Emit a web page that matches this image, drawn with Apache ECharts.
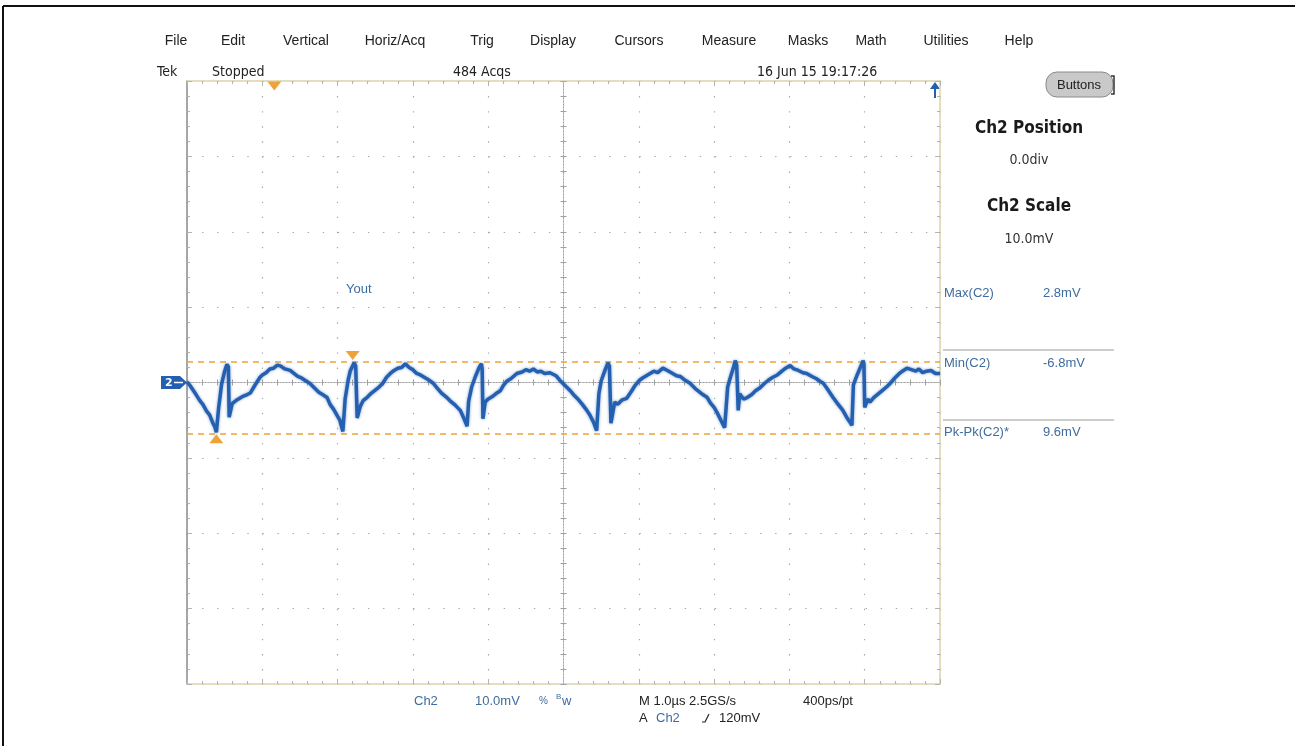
<!DOCTYPE html>
<html>
<head>
<meta charset="utf-8">
<title>Tek scope capture</title>
<script src="https://cdn.jsdelivr.net/npm/echarts@6/dist/echarts.min.js"></script>
<style>
  html, body { margin: 0; padding: 0; background: #fff; }
  #chart { width: 1295px; height: 746px; }
</style>
</head>
<body>
<div id="chart"></div>
<script>
  // Ch2 trace, time in us (0..10 across the screen), voltage in mV
  const tracePoints = [
    [0, 0.1], [0.04, -0.4], [0.08, -1.0], [0.12, -1.6], [0.17, -2.4], [0.21, -2.9], [0.26, -3.8], [0.3, -4.3],
    [0.34, -5.3], [0.37, -5.9], [0.39, -6.6],
    [0.42, -3.4], [0.46, -0.2], [0.5, 1.5], [0.53, 2.4], [0.55, 2.1], [0.56, -4.6],
    [0.6, -2.8], [0.65, -2.4], [0.7, -2.1], [0.75, -1.8], [0.8, -1.6], [0.84, -1.4], [0.9, -0.4], [0.97, 0.7],
    [1.0, 1.0], [1.05, 1.3], [1.1, 1.8], [1.15, 1.9], [1.2, 2.3], [1.24, 2.2], [1.3, 1.8], [1.37, 1.6],
    [1.42, 1.2], [1.47, 0.8], [1.52, 0.6], [1.58, 0.2], [1.63, -0.1], [1.7, -0.8], [1.75, -1.3], [1.8, -1.6],
    [1.86, -2.0], [1.9, -2.9], [1.95, -3.6], [2.0, -4.5], [2.03, -5.0], [2.07, -6.5],
    [2.1, -2.2], [2.14, 0.3], [2.17, 1.6], [2.22, 2.6], [2.24, 2.2], [2.26, -4.7],
    [2.3, -3.2], [2.34, -2.4], [2.4, -1.9], [2.45, -1.4], [2.5, -1.0], [2.55, -0.6], [2.6, -0.1], [2.65, 0.7],
    [2.7, 1.2], [2.75, 1.6], [2.8, 1.9], [2.85, 2.0], [2.9, 2.5], [2.95, 2.0], [3.0, 1.7], [3.05, 1.2],
    [3.1, 1.0], [3.15, 0.7], [3.2, 0.4], [3.27, -0.1], [3.32, -0.7], [3.38, -1.4], [3.44, -1.9], [3.49, -2.4],
    [3.55, -2.9], [3.6, -3.4], [3.63, -3.7], [3.67, -4.6], [3.72, -5.8],
    [3.74, -2.5], [3.78, -0.6], [3.83, 0.8], [3.88, 2.0], [3.91, 2.5], [3.92, 1.8], [3.93, -4.8],
    [3.96, -2.6], [4.0, -2.2], [4.05, -1.9], [4.1, -1.5], [4.16, -1.1], [4.2, -0.4], [4.25, 0.2], [4.3, 0.5],
    [4.38, 1.2], [4.45, 1.4], [4.5, 1.7], [4.55, 1.5], [4.6, 1.8], [4.65, 1.4], [4.7, 1.5], [4.75, 1.2],
    [4.82, 1.3], [4.9, 0.9], [4.95, 0.3], [5.0, -0.2], [5.05, -0.7], [5.1, -1.2], [5.15, -1.8], [5.2, -2.3],
    [5.25, -2.9], [5.31, -3.7], [5.35, -4.3], [5.4, -5.3], [5.44, -6.4],
    [5.47, -1.5], [5.5, 0.2], [5.55, 1.6], [5.59, 2.6], [5.61, 2.2], [5.63, -5.4],
    [5.68, -2.6], [5.72, -2.9], [5.78, -2.3], [5.84, -2.1], [5.9, -1.2], [5.95, -0.4], [6.01, 0.3], [6.05, 0.6],
    [6.1, 0.9], [6.15, 1.2], [6.2, 1.5], [6.25, 1.3], [6.32, 1.9], [6.38, 1.6], [6.45, 1.2], [6.5, 0.9],
    [6.55, 0.8], [6.6, 0.4], [6.68, -0.1], [6.75, -0.8], [6.8, -1.2], [6.85, -1.6], [6.91, -2.0], [6.95, -2.7],
    [7.0, -3.3], [7.04, -4.0], [7.1, -5.2], [7.14, -6.0],
    [7.18, -0.6], [7.22, 0.8], [7.26, 2.1], [7.28, 2.9], [7.3, 2.3], [7.32, -3.7],
    [7.34, -1.5], [7.39, -2.2], [7.44, -2.0], [7.5, -1.6], [7.55, -1.1], [7.61, -0.7], [7.66, -0.2], [7.72, 0.3],
    [7.78, 0.7], [7.84, 1.0], [7.9, 1.5], [7.95, 1.9], [8.01, 2.25], [8.06, 1.8], [8.12, 1.6], [8.18, 1.3],
    [8.23, 1.2], [8.3, 0.8], [8.36, 0.5], [8.4, 0.2], [8.45, -0.1], [8.5, -0.8], [8.54, -1.4], [8.58, -2.0],
    [8.64, -2.8], [8.71, -3.7], [8.76, -4.6], [8.8, -5.2], [8.83, -5.7],
    [8.85, -0.3], [8.9, 1.0], [8.95, 2.2], [8.98, 2.9], [8.99, 2.4], [9.0, -3.3],
    [9.04, -2.2], [9.07, -2.6], [9.12, -2.0], [9.18, -1.5], [9.24, -1.0], [9.3, -0.5], [9.34, -0.1], [9.4, 0.6],
    [9.45, 1.1], [9.5, 1.5], [9.56, 1.9], [9.62, 1.7], [9.68, 1.5], [9.72, 1.8], [9.77, 1.3], [9.82, 1.5],
    [9.88, 1.6], [9.94, 1.2], [10.0, 1.2]
  ]

  // cursor levels (mV) = measured max / min
  const cursorLevels = [2.8, -6.8]
  // screen span: 10 div x 1.0us, 8 div x 10 mV
  const timeRange = [0, 10]
  const voltRange = [-40, 40]
  const triggerTime = 1.16

  const menuItems = ['File', 'Edit', 'Vertical', 'Horiz/Acq', 'Trig', 'Display', 'Cursors', 'Measure', 'Masks', 'Math', 'Utilities', 'Help']
  const statusItems = ['Tek', 'Stopped', '484 Acqs', '16 Jun 15 19:17:26']
  const measureNames = ['Max(C2)', 'Min(C2)', 'Pk-Pk(C2)*']
  const measureValues = ['2.8mV', '-6.8mV', '9.6mV']

  const BLUE = '#2560b0'
  const TXTBLUE = '#3f6c9e'
  const ORANGE = '#eea23a'
  const EDGE = '#d8d5ab'
  const TICK = '#b5b5a5'

  const chart = echarts.init(document.getElementById('chart'), null, { renderer: 'canvas' })

  const gridDots = { show: true, lineStyle: { color: '#a8a8a8', width: 1.2, type: [1.4, 13.68] } }

  // builds one frame/centre axis; all share the same scale
  const frameAxis = (dim, position, opts) => {
    const range = dim === 'x' ? timeRange : voltRange
    return Object.assign({
      type: 'value',
      min: range[0],
      max: range[1],
      interval: dim === 'x' ? 1 : 10,
      position: position,
      offset: 0,
      axisLine: { show: true, onZero: false, lineStyle: { color: EDGE, width: 1.5 } },
      axisTick: { show: true, inside: true, length: 5, lineStyle: { color: TICK } },
      minorTick: { show: true, splitNumber: 5, length: 3, lineStyle: { color: TICK } },
      axisLabel: { show: false },
      splitLine: { show: false }
    }, opts)
  }

  const centerLine = { show: true, onZero: false, lineStyle: { color: '#a0a0a0', width: 1, type: [1, 2] } }
  const centerTick = inside => ({
    axisLine: centerLine,
    axisTick: { show: true, inside: inside, length: 3, lineStyle: { color: '#a0a0a0' } },
    minorTick: { show: true, splitNumber: 5, length: 3, lineStyle: { color: '#a0a0a0' } }
  })

  const ctext = (t, x, y, font, fill, align) => ({
    type: 'text', x: x, y: y,
    style: { text: t, font: font, fill: fill || '#222', align: align || 'left', verticalAlign: 'middle', textAlign: align || 'left', textVerticalAlign: 'middle' }
  })

  const texts = []
  const menuX = [176, 233, 306, 395, 482, 553, 639, 729, 808, 871, 946, 1019]
  menuItems.forEach((m, i) => {
    texts.push(ctext(m, menuX[i], 41, '14px "Liberation Sans", Arial', '#222', 'center'))
  })
  const statusX = [157, 212, 453, 757]
  statusItems.forEach((s, i) => {
    texts.push(ctext(s, statusX[i], 72, '14px "DejaVu Sans Condensed", "Liberation Sans", Arial', '#222'))
  })

  texts.push(ctext('Ch2 Position', 1029, 129, 'bold 17px "DejaVu Sans Condensed", "DejaVu Sans", Arial', '#1a1a1a', 'center'))
  texts.push(ctext('0.0div', 1029, 160, '14px "DejaVu Sans Condensed", "Liberation Sans", Arial', '#333', 'center'))
  texts.push(ctext('Ch2 Scale', 1029, 207, 'bold 17px "DejaVu Sans Condensed", "DejaVu Sans", Arial', '#1a1a1a', 'center'))
  texts.push(ctext('10.0mV', 1029, 239, '14px "DejaVu Sans Condensed", "Liberation Sans", Arial', '#333', 'center'))

  const measY = [293, 363, 432]
  measureNames.forEach((n, i) => {
    texts.push(ctext(n, 944, measY[i], '13px "Liberation Sans", Arial', TXTBLUE))
    texts.push(ctext(measureValues[i], 1043, measY[i], '13px "Liberation Sans", Arial', TXTBLUE))
  })
  texts.push({ type: 'line', shape: { x1: 943, y1: 350, x2: 1114, y2: 350 }, style: { stroke: '#9a9a9a', lineWidth: 1 } })
  texts.push({ type: 'line', shape: { x1: 943, y1: 420, x2: 1114, y2: 420 }, style: { stroke: '#9a9a9a', lineWidth: 1 } })

  texts.push(ctext('Yout', 346, 289, '13px "Liberation Sans", Arial', TXTBLUE))

  // bottom readout
  texts.push(ctext('Ch2', 414, 701, '13px "Liberation Sans", Arial', TXTBLUE))
  texts.push(ctext('10.0mV', 475, 701, '13px "Liberation Sans", Arial', TXTBLUE))
  texts.push(ctext('%', 539, 701, '10px "Liberation Sans", Arial', TXTBLUE))
  texts.push(ctext('B', 556, 697, '8px "Liberation Sans", Arial', TXTBLUE))
  texts.push(ctext('w', 562, 701, '13px "Liberation Sans", Arial', TXTBLUE))
  texts.push(ctext('M 1.0\u00b5s 2.5GS/s', 639, 701, '13px "Liberation Sans", Arial', '#222'))
  texts.push(ctext('400ps/pt', 803, 701, '13px "Liberation Sans", Arial', '#222'))
  texts.push(ctext('A', 639, 718, '13px "Liberation Sans", Arial', '#222'))
  texts.push(ctext('Ch2', 656, 718, '13px "Liberation Sans", Arial', TXTBLUE))
  texts.push({ type: 'polyline', shape: { points: [[702, 722], [705, 722], [709, 714]] }, style: { stroke: '#222', lineWidth: 1.2, fill: null } })
  texts.push(ctext('120mV', 719, 718, '13px "Liberation Sans", Arial', '#222'))

  // Buttons pill
  texts.push({ type: 'rect', shape: { x: 1046, y: 72, width: 67, height: 25, r: 11 }, style: { fill: '#c9c9c9', stroke: '#8a8a8a', lineWidth: 1 } })
  texts.push({ type: 'polyline', shape: { points: [[1111, 76], [1114, 76], [1114, 94], [1111, 94]] }, style: { stroke: '#333', lineWidth: 1.5, fill: null } })
  texts.push(ctext('Buttons', 1079, 85, '13px "Liberation Sans", Arial', '#222', 'center'))

  // ch2 ground marker
  texts.push({ type: 'rect', shape: { x: 161, y: 376, width: 19, height: 13 }, style: { fill: BLUE } })
  texts.push({ type: 'polygon', shape: { points: [[180, 376], [187, 382.5], [180, 389]] }, style: { fill: BLUE } })
  texts.push(ctext('2', 165, 383, 'bold 11px "DejaVu Sans", Arial', '#fff'))
  texts.push({ type: 'line', shape: { x1: 174, y1: 382.5, x2: 183, y2: 382.5 }, style: { stroke: '#fff', lineWidth: 1.5 } })

  // trigger level arrow top right
  texts.push({ type: 'line', shape: { x1: 935, y1: 98, x2: 935, y2: 86 }, style: { stroke: BLUE, lineWidth: 2 } })
  texts.push({ type: 'polygon', shape: { points: [[930, 89], [935, 82], [940, 89]] }, style: { fill: BLUE } })

  // outer frame of the screenshot
  texts.push({ type: 'line', shape: { x1: 3, y1: 6, x2: 1295, y2: 6 }, style: { stroke: '#111', lineWidth: 2 } })
  texts.push({ type: 'line', shape: { x1: 3, y1: 6, x2: 3, y2: 746 }, style: { stroke: '#111', lineWidth: 2 } })

  const option = {
    animation: false,
    backgroundColor: '#fff',
    grid: { left: 187, top: 81, width: 753, height: 603, show: false },
    xAxis: [
      frameAxis('x', 'bottom', { splitLine: gridDots }),
      frameAxis('x', 'top'),
      frameAxis('x', 'bottom', Object.assign({ offset: -301.5 }, centerTick(true))),
      frameAxis('x', 'bottom', Object.assign({ offset: -301.5 }, centerTick(false)))
    ],
    yAxis: [
      frameAxis('y', 'left', { splitLine: gridDots, axisLine: { show: true, onZero: false, lineStyle: { color: '#8a8a8a', width: 1.5 } } }),
      frameAxis('y', 'right'),
      frameAxis('y', 'left', Object.assign({ offset: -376.5 }, centerTick(true))),
      frameAxis('y', 'left', Object.assign({ offset: -376.5 }, centerTick(false)))
    ],
    series: [
      {
        name: 'Ch2',
        type: 'line',
        xAxisIndex: 0,
        yAxisIndex: 0,
        data: tracePoints,
        showSymbol: false,
        smooth: false,
        lineStyle: { color: BLUE, width: 3.5, shadowColor: 'rgba(37,96,176,0.6)', shadowBlur: 3 },
        itemStyle: { color: BLUE },
        z: 5,
        markLine: {
          silent: true,
          symbol: 'none',
          label: { show: false },
          lineStyle: { color: ORANGE, width: 1.5, type: [6, 5], shadowBlur: 0 },
          data: cursorLevels.map(v => ({ yAxis: v }))
        },
        markPoint: {
          silent: true,
          label: { show: false },
          itemStyle: { color: ORANGE },
          data: [
            { coord: [triggerTime, voltRange[1]], symbol: 'triangle', symbolSize: [14, 9], symbolRotate: 180, symbolOffset: [0, 5] },
            { coord: [2.2, cursorLevels[0]], symbol: 'triangle', symbolSize: [14, 9], symbolRotate: 180, symbolOffset: [0, -6] },
            { coord: [0.39, cursorLevels[1]], symbol: 'triangle', symbolSize: [14, 9], symbolOffset: [0, 5] }
          ]
        }
      }
    ],
    graphic: { elements: texts }
  }

  chart.setOption(option)
  window.addEventListener('resize', () => chart.resize())
</script>
</body>
</html>
